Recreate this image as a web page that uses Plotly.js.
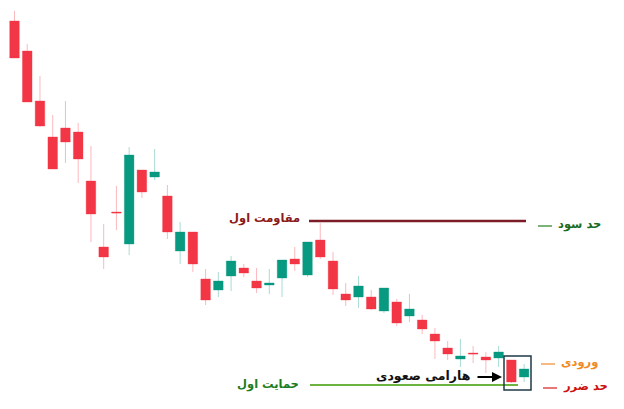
<!DOCTYPE html>
<html><head><meta charset="utf-8">
<script src="https://cdn.plot.ly/plotly-3.0.1.min.js"></script>
<style>html,body{margin:0;padding:0;background:#fff}#chart{width:624px;height:409px}</style>
</head><body><div id="chart"></div>
<script>
// candle index
const idx = [1,2,3,4,5,6,7,8,9,10,11,12,13,14,15,16,17,18,19,20,21,22,23,24,25,26,27,28,29,30,31,32,33,34,35,36,37,38,39,40,41];
const openP  = [388,358,308,272,281,277,228,162,197,165,239,232,213,158,177,130,119,133,141,128,124,131,150,134,169,148,115,112,112,98,107,93,89,75,61,50,56,52,51,49,32];
const highP  = [398,365,333,294,308,286,263,185,223,262,239,260,224,187,177,140,137,153,145,141,140,149,162,167,186,157,126,133,119,121,110,115,94,81,68,70,63,57,63,49,45];
const lowP   = [351,307,282,240,246,226,167,140,179,154,211,229,170,145,137,104,112,118,132,116,115,112,138,132,150,114,103,101,99,96,83,87,75,50,49,42,46,36,42,26,27];
const closeP = [351,307,283,240,267,250,195,152,196,254,217,237,177,177,145,109,128,148,136,121,126,149,145,167,152,120,109,123,100,121,86,100,80,68,55,53,55,49,57,27,40];

// levels
const resistanceLabel = 'مقاومت اول';
const resistanceLevel = 188;
const supportLabel = 'حمایت اول';
const supportLevel = 24;
const patternLabel = 'هارامی صعودی';
const patternLevel = 32;
const legendLabels = ['حد سود','ورودی','حد ضرر'];
const legendLevels = [183, 45, 21];
const legendColors = ['#1d6b1d','#f08a24','#cc1111'];
const legendDashColors = ['#4f9a4f','#f5a25a','#e04a4a'];

const xL = -0.138, pxPerUnit = 12.74;
const px = p => xL + p / pxPerUnit;

const trace = {
  type:'candlestick', x: idx, open: openP, high: highP, low: lowP, close: closeP,
  increasing:{line:{color:'rgba(8,153,129,0.35)', width:1}, fillcolor:'#089981'},
  decreasing:{line:{color:'rgba(242,54,69,0.35)', width:1}, fillcolor:'#f23645'},
  whiskerwidth:0, hoverinfo:'skip'
};

const font = 'DejaVu Sans, sans-serif';
const shapes = [
  {type:'line', xref:'x', yref:'y', x0:px(309), x1:px(526), y0:resistanceLevel, y1:resistanceLevel, line:{color:'#7b1c26', width:2.5}},
  {type:'line', xref:'x', yref:'y', x0:px(310), x1:px(518), y0:supportLevel, y1:supportLevel, line:{color:'#6db33f', width:2}},
  {type:'rect', xref:'x', yref:'y', x0:px(504), x1:px(531), y0:19, y1:53, line:{color:'#1f3a4a', width:1.5}, fillcolor:'rgba(0,0,0,0)'}
];
const annotations = [
  {xref:'x', yref:'y', x:px(302), y:resistanceLevel+3, text:'<b>'+resistanceLabel+'</b>', showarrow:false, xanchor:'right', yanchor:'middle', font:{family:font, size:11.5, color:'#8b1a1a'}},
  {xref:'x', yref:'y', x:px(301), y:supportLevel+1, text:'<b>'+supportLabel+'</b>', showarrow:false, xanchor:'right', yanchor:'middle', font:{family:font, size:11.5, color:'#1e7d1e'}},
  {xref:'x', yref:'y', x:px(472), y:patternLevel+2, text:'<b>'+patternLabel+'</b>', showarrow:false, xanchor:'right', yanchor:'middle', font:{family:font, size:12.5, color:'#111'}},
  {xref:'x', yref:'y', x:px(502), y:patternLevel, axref:'x', ayref:'y', ax:px(476), ay:patternLevel, text:'', showarrow:true, arrowhead:2, arrowsize:1, arrowwidth:2, arrowcolor:'#000'}
];
const dashX = [[538,552],[541,555],[543,557]];
legendLabels.forEach((t,i)=>{
  shapes.push({type:'line', xref:'x', yref:'y', x0:px(dashX[i][0]), x1:px(dashX[i][1]), y0:legendLevels[i], y1:legendLevels[i], line:{color:legendDashColors[i], width:1.5}});
  annotations.push({xref:'x', yref:'y', x:px(dashX[i][1]+4), y:legendLevels[i]+2, text:'<b>'+t+'</b>', showarrow:false, xanchor:'left', yanchor:'middle', font:{family:font, size:11.5, color:legendColors[i]}});
});

const layout = {
  width:624, height:409, margin:{l:0,r:0,t:0,b:0},
  paper_bgcolor:'#fff', plot_bgcolor:'#fff', showlegend:false,
  boxgap:0.25, boxgroupgap:0,
  xaxis:{visible:false, range:[xL, xL+624/pxPerUnit], rangeslider:{visible:false}, fixedrange:true},
  yaxis:{visible:false, range:[0,409], fixedrange:true},
  shapes, annotations
};
Plotly.newPlot('chart',[trace],layout,{displayModeBar:false, staticPlot:true});
</script></body></html>
